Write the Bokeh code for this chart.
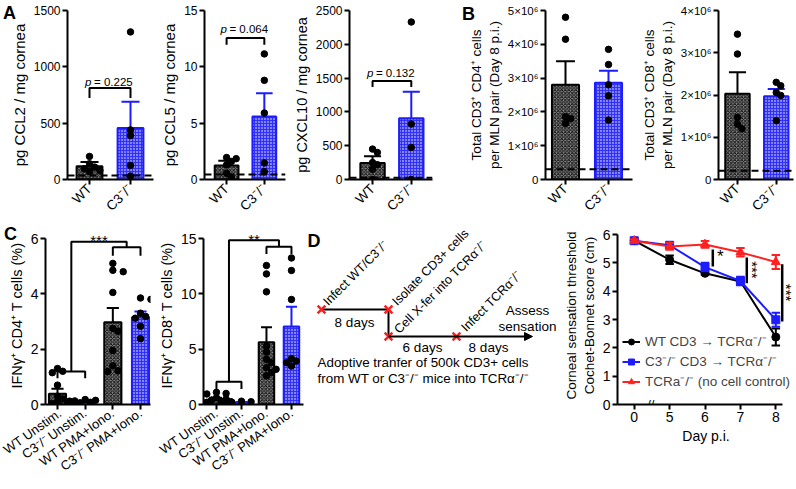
import math
from bokeh.plotting import figure
from bokeh.models import Range1d, FixedTicker, Span, Legend, LegendItem, Arrow, NormalHead, Div
from bokeh.layouts import row, column
from bokeh.embed import file_html
from bokeh.resources import INLINE
from bokeh.core.properties import value

FONT = "Liberation Sans"
BLACK = "#000000"
BLUE = "#1c1cff"
RED = "#ff2020"

# ---------------- data ----------------
ab_groups = ["WT", "C3⁻/⁻"]

ccl2_mean = [117, 456]
ccl2_sem = [38, 235]
ccl2_wt = [205, 140, 110, 95, 80, 70]
ccl2_c3 = [1310, 440, 390, 125, 30]
ccl2_limit = 35

ccl5_mean = [1.24, 5.6]
ccl5_sem = [0.42, 2.05]
ccl5_wt = [1.95, 1.85, 1.6, 1.3, 0.55, 0.2]
ccl5_c3 = [11.15, 8.8, 5.9, 1.47, 0.7]
ccl5_limit = 0.45

cxcl10_mean = [245, 907]
cxcl10_sem = [100, 390]
cxcl10_wt = [450, 400, 250, 220, 150, 0]
cxcl10_c3 = [2330, 820, 475, 0]
cxcl10_limit = 25

p_values = ["0.225", "0.064", "0.132"]

cd4_mean = [2.8e6, 2.86e6]
cd4_sem = [0.7e6, 0.36e6]
cd4_wt = [4.8e6, 4.15e6, 1.86e6, 1.8e6, 1.66e6]
cd4_c3 = [3.85e6, 3.4e6, 2.8e6, 2.48e6, 1.76e6]
cd4_limit = 0.3e6

cd8_mean = [2.03e6, 1.97e6]
cd8_sem = [0.51e6, 0.17e6]
cd8_wt = [3.44e6, 2.97e6, 1.47e6, 1.31e6, 1.2e6]
cd8_c3 = [2.3e6, 2.22e6, 2.06e6, 1.99e6, 1.39e6]
cd8_limit = 0.21e6

c_groups = ["WT Unstim.", "C3⁻/⁻ Unstim.", "WT PMA+Iono.", "C3⁻/⁻ PMA+Iono."]
ifn_cd4_mean = [0.39, 0.12, 2.97, 3.15]
ifn_cd4_sem = [0.18, 0.02, 0.52, 0.21]
ifn_cd4_pts = [[1.3, 1.2, 1.15, 0.7, 0.3, 0.2, 0.1, 0.05, 0.03, 0.0],
               [0.18, 0.15, 0.13, 0.12, 0.1, 0.09, 0.08, 0.06],
               [5.1, 4.85, 4.8, 4.05, 2.75, 2.65, 1.95, 1.4, 1.22, 1.19],
               [3.85, 3.8, 3.3, 3.18, 3.12, 2.83, 2.38]]
ifn_cd8_mean = [0.5, 0.19, 5.63, 7.05]
ifn_cd8_sem = [0.12, 0.03, 1.36, 1.79]
ifn_cd8_pts = [[1.1, 1.0, 0.95, 0.6, 0.5, 0.4, 0.3, 0.25, 0.2, 0.15],
               [0.3, 0.25, 0.2, 0.2, 0.15, 0.1, 0.1],
               [12.56, 11.8, 10.18, 5.27, 4.73, 4.08, 3.78, 3.33, 3.18, 2.89, 2.59],
               [13.24, 12.11, 9.49, 4.14, 3.93, 3.78, 3.48]]

days = [0, 5, 6, 7, 8]
wt_cd3 = [5.78, 5.11, 4.63, 4.34, 2.38]
wt_cd3_err = [0.05, 0.15, 0.05, 0.1, 0.3]
c3_cd3 = [5.78, 5.62, 4.85, 4.36, 2.99]
c3_cd3_err = [0.05, 0.05, 0.15, 0.15, 0.25]
tcr_ctrl = [5.78, 5.58, 5.65, 5.37, 5.03]
tcr_ctrl_err = [0.05, 0.12, 0.12, 0.15, 0.25]
d_labels = ["WT CD3 → TCRα⁻/⁻", "C3⁻/⁻ CD3 → TCRα⁻/⁻", "TCRa⁻/⁻ (no cell control)"]


# ---------------- helpers ----------------
def style_axes(p, fs="12px", lfs="13px"):
    p.xgrid.visible = False
    p.ygrid.visible = False
    p.outline_line_color = None
    p.background_fill_color = "white"
    p.border_fill_color = "white"
    for ax in p.axis:
        ax.axis_line_width = 2
        ax.axis_line_color = BLACK
        ax.major_tick_line_width = 2
        ax.major_tick_line_color = BLACK
        ax.major_tick_out = 5
        ax.major_tick_in = 0
        ax.minor_tick_line_color = None
        ax.major_label_text_font = FONT
        ax.major_label_text_font_size = fs
        ax.major_label_text_color = BLACK
        ax.major_label_standoff = 2
        ax.axis_label_text_font = FONT
        ax.axis_label_text_font_style = "normal"
        ax.axis_label_text_font_size = lfs
        ax.axis_label_text_color = BLACK
        ax.axis_label_standoff = 3


def swarm(vals, center, ppu_y, ppu_x, diam=6.5):
    placed = []
    xs = []
    for v in vals:
        y = v * ppu_y
        for k in [0, 1, -1, 2, -2, 3, -3]:
            x = k * diam * 0.8
            if all((x - px) ** 2 + (y - py) ** 2 >= (diam * 0.85) ** 2 for px, py in placed):
                break
        placed.append((x, y))
        xs.append(center + x / ppu_x)
    return xs


def bar_fig(fl, fr, axis_x, frame_r, c_first, c_last, row_t, row_b, frame_top, zero_px, top_px,
            y_top, ticks, overrides, ylabel, groups, means, sems, pts, bar_frac=0.63, limit=None,
            label_angle=math.pi / 4, fs="12px", lfs="13px", xfs="13.5px"):
    n = len(groups)
    spacing = (c_last - c_first) / (n - 1)
    xs0 = 1 - (c_first - axis_x) / spacing
    xs1 = xs0 + (frame_r - axis_x) / spacing
    ppu = (zero_px - top_px) / y_top
    y_end = y_top + (top_px - frame_top) / ppu
    p = figure(width=fr - fl, height=row_b - row_t,
               x_range=Range1d(xs0, xs1), y_range=Range1d(0, y_end),
               min_border_left=axis_x - fl, min_border_right=fr - frame_r,
               min_border_top=frame_top - row_t, min_border_bottom=row_b - zero_px,
               output_backend="svg", toolbar_location=None)
    xc = list(range(1, n + 1))
    for i in range(n):
        blue = (i % 2 == 1)
        p.vbar(x=[xc[i]], top=[means[i]], bottom=0, width=bar_frac,
               fill_color="#3030f8" if blue else "#8a8a8a",
               hatch_pattern="diagonal_cross" if not blue else "dot",
               hatch_color="#ffffff" if blue else "#111111",
               hatch_scale=3.5 if not blue else 3, hatch_weight=1,
               line_color=BLUE if blue else BLACK, line_width=2)
    for i in range(n):
        blue = (i % 2 == 1)
        col = BLUE if blue else BLACK
        top = means[i] + sems[i]
        p.segment(x0=[xc[i]], y0=[means[i]], x1=[xc[i]], y1=[top], line_color=col, line_width=2)
        p.segment(x0=[xc[i] - 0.22], y0=[top], x1=[xc[i] + 0.22], y1=[top], line_color=col, line_width=2)
    for i in range(n):
        sx = swarm(pts[i], xc[i], ppu, spacing)
        p.scatter(x=sx, y=pts[i], size=6.5, fill_color=BLACK, line_color=BLACK)
    if limit is not None:
        p.add_layout(Span(location=limit, dimension="width", line_color=BLACK,
                          line_width=2, line_dash="7 4"))
    style_axes(p, fs=fs, lfs=lfs)
    p.yaxis.ticker = FixedTicker(ticks=ticks)
    p.yaxis.bounds = (0, y_top)
    if overrides:
        p.yaxis.major_label_overrides = overrides
    p.yaxis.axis_label = ylabel
    p.xaxis.ticker = FixedTicker(ticks=xc)
    p.xaxis.major_label_overrides = {x: g for x, g in zip(xc, groups)}
    p.xaxis.major_label_orientation = label_angle
    p.xaxis.major_label_text_font_size = xfs
    return p


def add_pbracket(p, y, leg, ytxt, ptxt):
    p.line(x=[1, 1, 2, 2], y=[leg, y, y, leg], line_color=BLACK, line_width=2)
    p.text(x=[1.5], y=[ytxt], text=["p"], text_font=value(FONT), text_font_style="italic",
           text_font_size="11.5px", text_align="left", text_baseline="middle", x_offset=-25)
    p.text(x=[1.5], y=[ytxt], text=["= " + ptxt], text_font=value(FONT),
           text_font_size="11.5px", text_align="left", text_baseline="middle", x_offset=-16)


def letter_div(txt, left, top):
    return Div(text=txt, width=20, height=24,
               styles={"position": "absolute", "left": "%dpx" % left, "top": "%dpx" % top,
                       "font-family": FONT, "font-weight": "bold", "font-size": "18px",
                       "line-height": "22px", "color": "black", "margin": "0", "padding": "0",
                       "z-index": "10"})


# ---------------- top row (page pixel layout) ----------------
TOP_T, TOP_B = 0, 226
FT, Z = 10, 179
pA1 = bar_fig(0, 158, 67, 153, 89, 130, TOP_T, TOP_B, FT, Z, FT, 1500, [0, 500, 1000, 1500], None,
              "pg CCL2 / mg cornea", ab_groups, ccl2_mean, ccl2_sem, [ccl2_wt, ccl2_c3],
              limit=ccl2_limit, lfs="15px")
add_pbracket(pA1, 812, 724, 865, p_values[0])

pA2 = bar_fig(158, 290, 197, 285, 221, 262, TOP_T, TOP_B, FT, Z, FT, 15, [0, 5, 10, 15], None,
              "pg CCL5 / mg cornea", ab_groups, ccl5_mean, ccl5_sem, [ccl5_wt, ccl5_c3],
              limit=ccl5_limit, lfs="15px")
add_pbracket(pA2, 12.56, 11.97, 13.4, p_values[1])

pA3 = bar_fig(290, 437, 342, 432, 367, 409, TOP_T, TOP_B, FT, Z, FT, 2500,
              [0, 500, 1000, 1500, 2000, 2500], None,
              "pg CXCL10 / mg cornea", ab_groups, cxcl10_mean, cxcl10_sem,
              [cxcl10_wt, cxcl10_c3], limit=cxcl10_limit, lfs="14.5px")
add_pbracket(pA3, 1456, 1368, 1578, p_values[2])

b_ticks_4 = [0, 1000000, 2000000, 3000000, 4000000, 5000000]
b_over_4 = {t: ("0" if t == 0 else "%d×10⁶" % (t // 1000000)) for t in b_ticks_4}
pB1 = bar_fig(437, 638, 545, 632, 565, 608, TOP_T, TOP_B, FT, Z, FT, 5000000, b_ticks_4, b_over_4,
              "Total CD3⁺ CD4⁺ cells\nper MLN pair (Day 8 p.i.)", ab_groups, cd4_mean, cd4_sem,
              [cd4_wt, cd4_c3], limit=cd4_limit, fs="11.5px", lfs="13.5px")

b_ticks_8 = [0, 1000000, 2000000, 3000000, 4000000]
b_over_8 = {t: ("0" if t == 0 else "%d×10⁶" % (t // 1000000)) for t in b_ticks_8}
pB2 = bar_fig(638, 796, 706, 793, 728, 773, TOP_T, TOP_B, FT, Z, FT, 4000000, b_ticks_8, b_over_8,
              "Total CD3⁺ CD8⁺ cells\nper MLN pair (Day 8 p.i.)", ab_groups, cd8_mean, cd8_sem,
              [cd8_wt, cd8_c3], limit=cd8_limit, fs="11.5px", lfs="13.5px")

# ---------------- bottom row (all frames share top 226 / bottom 404) ----------------
BOT_T, BOT_B = 226, 489
BFT, BZ = 226, 404
C_ANG = 0.62
pC1 = bar_fig(0, 155, 45, 150, 57, 140, BOT_T, BOT_B, BFT, BZ, 238, 6, [0, 2, 4, 6], None,
              "IFNγ⁺ CD4⁺ T cells (%)", c_groups, ifn_cd4_mean, ifn_cd4_sem, ifn_cd4_pts,
              bar_frac=0.62, label_angle=C_ANG, fs="14px", lfs="14.5px", xfs="13px")
pC1.line(x=[1, 1, 2, 2], y=[0.95, 1.19, 1.19, 0.95], line_color=BLACK, line_width=2)
pC1.line(x=[1.5, 1.5, 3.5, 3.5], y=[1.19, 5.88, 5.88, 5.68], line_color=BLACK, line_width=2)
pC1.line(x=[3, 3, 4, 4], y=[5.38, 5.68, 5.68, 5.38], line_color=BLACK, line_width=2)
pC1.text(x=[2.5], y=[5.93], text=["***"], text_font=value(FONT), text_font_size="15px",
         text_align="center", text_baseline="alphabetic")

pC2 = bar_fig(155, 305, 195, 303, 209, 290, BOT_T, BOT_B, BFT, BZ, 238, 15, [0, 5, 10, 15], None,
              "IFNγ⁺ CD8⁺ T cells (%)", c_groups, ifn_cd8_mean, ifn_cd8_sem, ifn_cd8_pts,
              bar_frac=0.62, label_angle=C_ANG, fs="14px", lfs="14.5px", xfs="13px")
pC2.line(x=[1, 1, 2, 2], y=[1.4, 2.05, 2.05, 1.4], line_color=BLACK, line_width=2)
pC2.line(x=[1.5, 1.5, 3.5, 3.5], y=[2.05, 14.85, 14.85, 14.26], line_color=BLACK, line_width=2)
pC2.line(x=[3, 3, 4, 4], y=[13.6, 14.26, 14.26, 13.6], line_color=BLACK, line_width=2)
pC2.text(x=[2.5], y=[14.95], text=["**"], text_font=value(FONT), text_font_size="15px",
         text_align="center", text_baseline="alphabetic")

# ---- D schematic (coordinates: page pixels, y measured downward from page top) ----
H = 489


def fy(vals):
    return [H - v for v in vals]


pDs = figure(width=255, height=BOT_B - BOT_T, x_range=Range1d(305, 560), y_range=Range1d(H - BZ, H - BFT),
             min_border_left=0, min_border_right=0, min_border_top=BFT - BOT_T, min_border_bottom=BOT_B - BZ,
             x_axis_location=None, y_axis_location=None, title=None,
             output_backend="svg", toolbar_location=None)
pDs.xgrid.visible = False
pDs.ygrid.visible = False
pDs.outline_line_color = None
pDs.segment(x0=[321, 388], y0=fy([309, 309]), x1=[388, 388], y1=fy([309, 336]), line_color=BLACK, line_width=2)
pDs.add_layout(Arrow(end=NormalHead(size=8, fill_color=BLACK, line_color=BLACK),
                     x_start=388, y_start=H - 336, x_end=532, y_end=H - 336, line_width=2, line_color=BLACK))
pDs.scatter(x=[321, 388, 388, 456], y=fy([309, 309, 336, 336]), marker="x", size=11,
            line_color=RED, line_width=2.5)
pDs.text(x=[325, 394, 396, 463], y=fy([303, 303, 331, 329]),
         text=["Infect WT/C3⁻/⁻", "Isolate CD3+ cells", "Cell X-fer into TCRα⁻/⁻", "Infect TCRα⁻/⁻"],
         angle=math.pi / 4, text_font=value(FONT), text_font_size="12.6px",
         text_align="left", text_baseline="alphabetic")
pDs.text(x=[354, 422, 488], y=fy([322, 347, 347]), text=["8 days", "6 days", "8 days"],
         text_font=value(FONT), text_font_size="13.5px", text_align="center", text_baseline="middle")
pDs.text(x=[527, 527], y=fy([310, 326]), text=["Assess", "sensation"],
         text_font=value(FONT), text_font_size="13.5px", text_align="center", text_baseline="middle")
pDs.text(x=[317, 317], y=fy([362, 378]),
         text=["Adoptive tranfer of 500k CD3+ cells", "from WT or C3⁻/⁻ mice into TCRα⁻/⁻"],
         text_font=value(FONT), text_font_size="13.4px", text_align="left", text_baseline="middle")
pDs.text(x=[307], y=fy([240]), text=["D"], text_font=value(FONT), text_font_size="18px",
         text_font_style="bold", text_align="left", text_baseline="alphabetic")

# ---- D line chart ----
D_AX, D_FR, D_TOP6 = 614, 794, 234
d_sp = 36.0
pos = [4 if d == 0 else d for d in days]
dx0 = 4 - (631 - D_AX) / d_sp
dx1 = dx0 + (D_FR - D_AX) / d_sp
d_ppu = (BZ - D_TOP6) / 6
d_yend = 6 + (D_TOP6 - BFT) / d_ppu
pD = figure(width=796 - 560, height=BOT_B - BOT_T, x_range=Range1d(dx0, dx1), y_range=Range1d(0, d_yend),
            min_border_left=D_AX - 560, min_border_right=796 - D_FR, min_border_top=BFT - BOT_T,
            min_border_bottom=BOT_B - BZ, output_backend="svg", toolbar_location=None)
series = [(wt_cd3, wt_cd3_err, BLACK, "circle", 8), (c3_cd3, c3_cd3_err, BLUE, "square", 8),
          (tcr_ctrl, tcr_ctrl_err, RED, "triangle", 9)]
items = []
for (vals, errs, col, mk, sz), lab in zip(series, d_labels):
    lo = [v - e for v, e in zip(vals, errs)]
    hi = [v + e for v, e in zip(vals, errs)]
    pD.segment(x0=pos, y0=lo, x1=pos, y1=hi, line_color=col, line_width=2)
    pD.segment(x0=[x - 0.12 for x in pos], y0=hi, x1=[x + 0.12 for x in pos], y1=hi, line_color=col, line_width=2)
    pD.segment(x0=[x - 0.12 for x in pos], y0=lo, x1=[x + 0.12 for x in pos], y1=lo, line_color=col, line_width=2)
    ln = pD.line(x=pos, y=vals, line_color=col, line_width=2)
    sc = pD.scatter(x=pos, y=vals, marker=mk, size=sz, fill_color=col, line_color=col)
    items.append(LegendItem(label=lab, renderers=[ln, sc]))
pD.segment(x0=[6.22, 7.18, 8.18], y0=[4.87, 4.28, 2.93], x1=[6.22, 7.18, 8.18], y1=[5.47, 5.19, 4.95],
           line_color=BLACK, line_width=2.5)
pD.text(x=[6.34], y=[5.22], text=["*"], text_font=value(FONT), text_font_size="17px",
        text_align="left", text_baseline="middle")
pD.text(x=[7.33, 8.3], y=[4.75, 3.95], text=["***", "***"], angle=-math.pi / 2,
        text_font=value(FONT), text_font_size="15px", text_align="center", text_baseline="middle")
pD.text(x=[4.47], y=[0], text=["//"], text_font=value(FONT), text_font_size="13px",
        text_align="center", text_baseline="middle")
legend = Legend(items=items, location=(5, 14), background_fill_alpha=0, border_line_color=None,
                label_text_font=FONT, label_text_font_size="13.5px", glyph_width=18, glyph_height=15,
                label_height=15, spacing=2, padding=0, margin=0, label_standoff=5)
pD.add_layout(legend)
style_axes(pD, fs="14px", lfs="13.5px")
pD.yaxis.ticker = FixedTicker(ticks=[0, 1, 2, 3, 4, 5, 6])
pD.yaxis.bounds = (0, 6)
pD.xaxis.ticker = FixedTicker(ticks=pos)
pD.xaxis.major_label_overrides = {p_: str(d) for p_, d in zip(pos, days)}
pD.xaxis.bounds = (dx0, 8.2)
pD.yaxis.axis_label = "Corneal sensation threshold\nCochet-Bonnet score (cm)"
pD.xaxis.axis_label = "Day p.i."
pD.xaxis.axis_label_text_font_size = "14px"

layout = column(row(pA1, pA2, pA3, pB1, pB2), row(pC1, pC2, pDs, pD),
                letter_div("A", 3, 2), letter_div("B", 462, 3), letter_div("C", 4, 223))
open("out.html", "w").write(file_html(layout, INLINE))
